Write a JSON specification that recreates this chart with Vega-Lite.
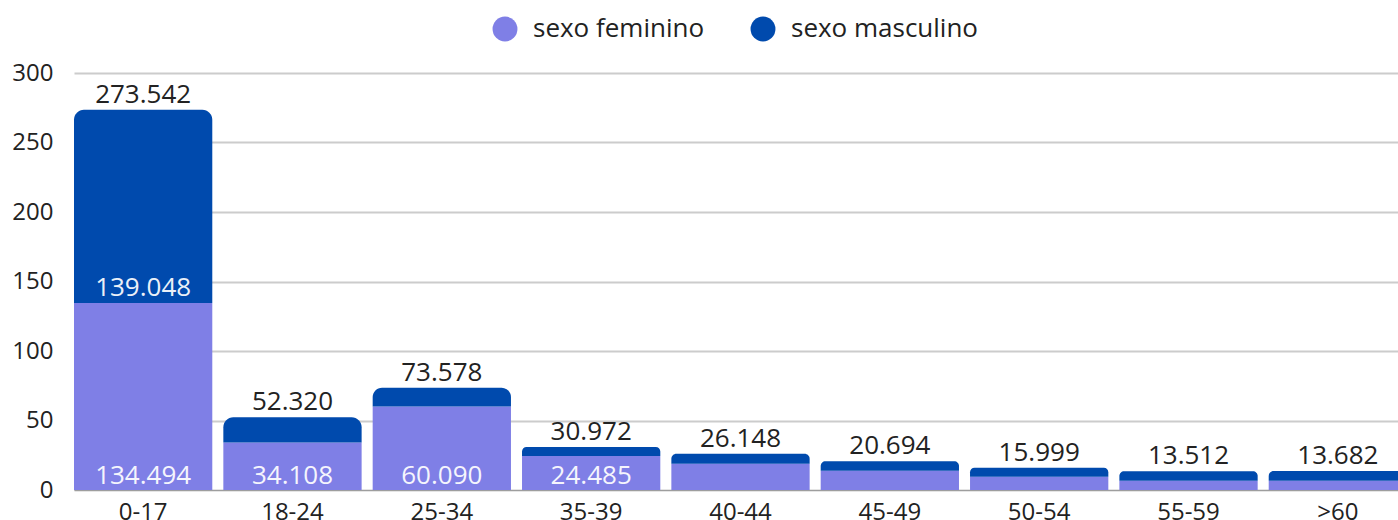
{
  "$schema": "https://vega.github.io/schema/vega-lite/v6.json",
  "autosize": {"type": "none"},
  "width": 1324,
  "height": 417,
  "padding": {"left": 74, "top": 73, "right": 0, "bottom": 30},
  "background": "white",
  "config": {
    "font": "Open Sans",
    "view": {"stroke": null},
    "axis": {"labelFont": "Open Sans", "labelFontSize": 24, "labelColor": "#222222", "ticks": false, "title": null}
  },
  "data": {
    "values": [
      {"faixa": "0-17", "fem": 134.494, "masc": 139.048, "total": 273.542, "showF": true, "showM": true},
      {"faixa": "18-24", "fem": 34.108, "masc": 18.212, "total": 52.32, "showF": true, "showM": false},
      {"faixa": "25-34", "fem": 60.09, "masc": 13.488, "total": 73.578, "showF": true, "showM": false},
      {"faixa": "35-39", "fem": 24.485, "masc": 6.487, "total": 30.972, "showF": true, "showM": false},
      {"faixa": "40-44", "fem": 18.8, "masc": 7.348, "total": 26.148, "showF": false, "showM": false},
      {"faixa": "45-49", "fem": 13.9, "masc": 6.794, "total": 20.694, "showF": false, "showM": false},
      {"faixa": "50-54", "fem": 9.6, "masc": 6.399, "total": 15.999, "showF": false, "showM": false},
      {"faixa": "55-59", "fem": 6.7, "masc": 6.812, "total": 13.512, "showF": false, "showM": false},
      {"faixa": ">60", "fem": 6.6, "masc": 7.082, "total": 13.682, "showF": false, "showM": false}
    ]
  },
  "encoding": {
    "x": {
      "field": "faixa", "type": "nominal", "sort": null,
      "scale": {"range": [0, 1333], "paddingInner": 0.074, "paddingOuter": 0},
      "axis": {"labelAngle": 0, "labelPadding": 10, "labelBaseline": "top", "domain": true, "domainColor": "#9e9e9e", "domainWidth": 1, "grid": false}
    }
  },
  "layer": [
    {
      "mark": {"type": "bar"},
      "encoding": {
        "y": {
          "field": "fem", "type": "quantitative",
          "scale": {"domain": [0, 300], "nice": false},
          "axis": {"values": [0, 50, 100, 150, 200, 250, 300], "domain": false, "labelPadding": 21, "gridColor": "#cccccc", "gridWidth": 1.8}
        },
        "color": {
          "datum": "sexo feminino",
          "scale": {"domain": ["sexo feminino", "sexo masculino"], "range": ["#7f7fe6", "#004aad"]},
          "legend": {
            "title": null, "orient": "none", "direction": "horizontal",
            "legendX": 418, "legendY": -57,
            "symbolType": "circle", "symbolSize": 620, "symbolStrokeWidth": 0,
            "labelFontSize": 26, "labelFont": "Open Sans", "labelColor": "#222222", "labelLimit": 400,
            "labelOffset": 15, "columnPadding": 45
          }
        }
      }
    },
    {
      "mark": {"type": "bar", "cornerRadiusTopLeft": 10, "cornerRadiusTopRight": 10},
      "encoding": {
        "y": {"field": "total", "type": "quantitative"},
        "y2": {"field": "fem"},
        "color": {"datum": "sexo masculino"}
      }
    },
    {
      "mark": {"type": "text", "baseline": "alphabetic", "dy": -7, "fontSize": 26, "color": "#222222"},
      "encoding": {
        "y": {"field": "total", "type": "quantitative"},
        "text": {"field": "total", "type": "quantitative", "format": ".3f"}
      }
    },
    {
      "transform": [{"filter": "datum.showF"}],
      "mark": {"type": "text", "baseline": "alphabetic", "dy": -6, "fontSize": 26, "color": "#ffffff", "opacity": 0.92},
      "encoding": {
        "y": {"datum": 0, "type": "quantitative"},
        "text": {"field": "fem", "type": "quantitative", "format": ".3f"}
      }
    },
    {
      "transform": [{"filter": "datum.showM"}],
      "mark": {"type": "text", "baseline": "alphabetic", "dy": -7, "fontSize": 26, "color": "#ffffff", "opacity": 0.92},
      "encoding": {
        "y": {"field": "fem", "type": "quantitative"},
        "text": {"field": "masc", "type": "quantitative", "format": ".3f"}
      }
    }
  ]
}
